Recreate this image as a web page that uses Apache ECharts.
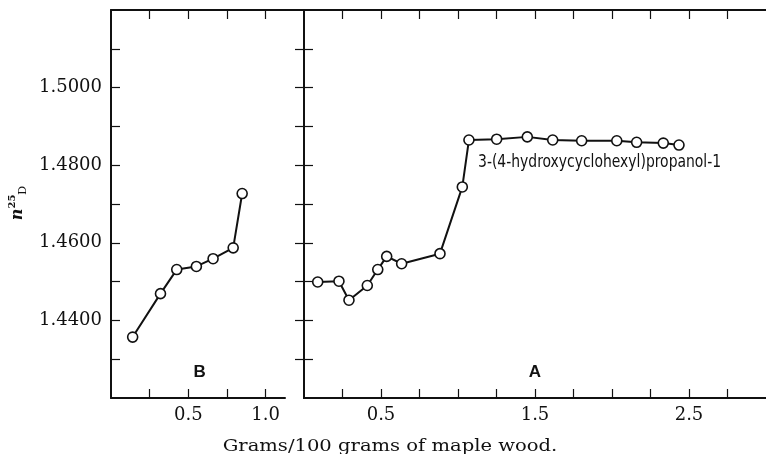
<!DOCTYPE html>
<html><head><meta charset="utf-8">
<script src="https://cdn.jsdelivr.net/npm/echarts@6/dist/echarts.min.js"></script>
<style>html,body{margin:0;padding:0;background:#fff}#c{width:766px;height:454px}</style>
</head><body><div id="c"></div>
<script>
const xB = [0.14, 0.32, 0.425, 0.552, 0.66, 0.79, 0.848];
const yB = [1.4357, 1.4469, 1.4531, 1.4539, 1.4559, 1.4587, 1.4727];
const xA = [0.089, 0.227, 0.292, 0.411, 0.479, 0.537, 0.634, 0.883, 1.028, 1.071, 1.251, 1.450, 1.615, 1.803, 2.031, 2.160, 2.333, 2.435];
const yA = [1.4499, 1.4501, 1.4452, 1.4490, 1.4531, 1.4565, 1.4546, 1.4572, 1.4744, 1.4865, 1.4867, 1.4873, 1.4865, 1.4863, 1.4863, 1.4859, 1.4857, 1.4852];
const yTicks = [1.43, 1.44, 1.45, 1.46, 1.47, 1.48, 1.49, 1.50, 1.51];
const yLabels = [1.44, 1.46, 1.48, 1.50];
const xTicksB = [0.25, 0.5, 0.75, 1.0];
const xLabelsB = [0.5, 1.0];
const xTicksA = [0.25, 0.5, 0.75, 1.0, 1.25, 1.5, 1.75, 2.0, 2.25, 2.5, 2.75];
const xLabelsA = [0.5, 1.5, 2.5];
const annotation = '3-(4-hydroxycyclohexyl)propanol-1';
const annotationAt = [1.13, 1.4808];
const panelLabels = ['B', 'A'];
const panelLabelAt = [[0.573, 1.4266], [1.5, 1.4266]];
const xTitle = 'Grams/100 grams of maple wood.';

const ink = '#111';
const serif = 'DejaVu Serif';
const axLine = {show: true, lineStyle: {color: ink, width: 2}};
function xAx(grid, pos, max, ticks, labels, showLabels) {
  return {
    type: 'value', gridIndex: grid, position: pos, min: 0, max: max,
    axisLine: axLine, splitLine: {show: false},
    axisTick: {show: true, inside: true, length: 9, customValues: ticks, lineStyle: {color: ink, width: 1.2}},
    axisLabel: showLabels ? {show: true, customValues: labels, margin: 8, color: ink, fontFamily: serif, fontSize: 18,
      formatter: v => v.toFixed(1)} : {show: false}
  };
}
function yAx(grid, pos, showLabels) {
  return {
    type: 'value', gridIndex: grid, position: pos, min: 1.42, max: 1.52,
    axisLine: axLine, splitLine: {show: false},
    axisTick: {show: true, inside: true, length: 9, customValues: yTicks, lineStyle: {color: ink, width: 1.2}},
    axisLabel: showLabels ? {show: true, customValues: yLabels, margin: 9, color: ink, fontFamily: serif, fontSize: 18,
      formatter: v => v.toFixed(4)} : {show: false}
  };
}
const markerStyle = {color: '#fff', borderColor: ink, borderWidth: 1.6};
const panelLabelStyle = {show: true, position: 'inside', fontFamily: 'Liberation Sans', fontWeight: 'bold', fontSize: 17, color: ink};
const chart = echarts.init(document.getElementById('c'), null, {renderer: 'canvas'});
chart.setOption({
  animation: false,
  backgroundColor: '#fff',
  grid: [
    {left: 111, right: 481, top: 10, bottom: 56},
    {left: 304, right: 0, top: 10, bottom: 56}
  ],
  xAxis: [
    xAx(0, 'bottom', 1.125, xTicksB, xLabelsB, true),
    xAx(0, 'top', 1.125, xTicksB, xLabelsB, false),
    xAx(1, 'bottom', 3.0, xTicksA, xLabelsA, true),
    xAx(1, 'top', 3.0, xTicksA, xLabelsA, false)
  ],
  yAxis: [
    yAx(0, 'left', true),
    yAx(1, 'left', false),
    yAx(1, 'right', false)
  ],
  series: [
    {type: 'line', xAxisIndex: 0, yAxisIndex: 0, data: xB.map((x, i) => [x, yB[i]]),
      symbol: 'circle', symbolSize: 10, showAllSymbol: true, lineStyle: {color: ink, width: 2}, itemStyle: markerStyle,
      markPoint: {symbol: 'circle', symbolSize: 0, data: [{coord: panelLabelAt[0], label: {formatter: panelLabels[0]}}],
        label: panelLabelStyle}},
    {type: 'line', xAxisIndex: 2, yAxisIndex: 1, data: xA.map((x, i) => [x, yA[i]]),
      symbol: 'circle', symbolSize: 10, showAllSymbol: true, lineStyle: {color: ink, width: 2}, itemStyle: markerStyle,
      markPoint: {symbol: 'circle', symbolSize: 0, data: [{coord: panelLabelAt[1], label: {formatter: panelLabels[1]}}],
        label: panelLabelStyle}}
  ]
});
const ann = chart.convertToPixel({xAxisIndex: 2, yAxisIndex: 1}, annotationAt);
const gl = chart.convertToPixel({xAxisIndex: 0}, 1.125);
const gr = chart.convertToPixel({xAxisIndex: 2}, 0);
const gt = chart.convertToPixel({yAxisIndex: 0}, 1.52);
chart.setOption({
  graphic: [
    {type: 'line', shape: {x1: gl - 1, y1: gt, x2: gr + 1, y2: gt}, style: {stroke: ink, lineWidth: 2}},
    {type: 'text', x: 390, y: 447, scaleX: 1.15,
      style: {text: xTitle, font: '17px "DejaVu Serif"', fill: ink, align: 'center', verticalAlign: 'middle'}},
    {type: 'text', x: ann[0], y: ann[1], scaleX: 0.86,
      style: {text: annotation, font: '18px "Liberation Sans Narrow", "DejaVu Sans Condensed", sans-serif', fill: ink, align: 'left', verticalAlign: 'middle'}},
    {type: 'text', x: 18, y: 203, rotation: Math.PI / 2,
      style: {text: '{n|n}{s|25}{d|D}', align: 'center', verticalAlign: 'middle', fill: ink,
        rich: {
          n: {fontFamily: serif, fontStyle: 'italic', fontWeight: 'bold', fontSize: 16, lineHeight: 22, verticalAlign: 'middle'},
          s: {fontFamily: serif, fontWeight: 'bold', fontSize: 10, lineHeight: 22, verticalAlign: 'top'},
          d: {fontFamily: serif, fontSize: 11, lineHeight: 22, verticalAlign: 'bottom'}
        }}}
  ]
});
</script></body></html>
